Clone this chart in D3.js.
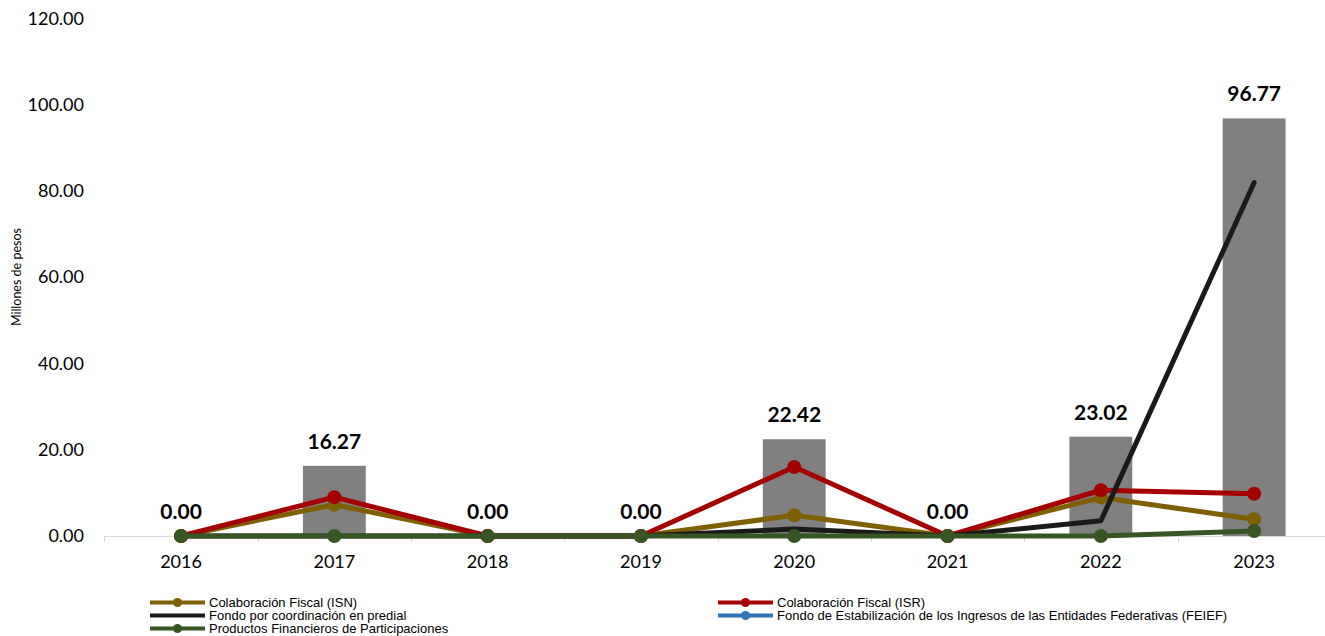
<!DOCTYPE html>
<html><head><meta charset="utf-8">
<script src="https://cdn.jsdelivr.net/npm/d3@7/dist/d3.min.js"></script>
<style>body{margin:0;background:#fff}svg{display:block}</style>
</head><body>
<svg id="c" width="1325" height="636"></svg>
<script>
const years = ["2016","2017","2018","2019","2020","2021","2022","2023"];
const totals = [0.00, 16.27, 0.00, 0.00, 22.42, 0.00, 23.02, 96.77];
const isn = [0, 7.27, 0, 0, 4.8, 0, 8.9, 3.9];
const isr = [0, 9.0, 0, 0, 16.0, 0, 10.6, 9.8];
const predial = [0, 0, 0, 0, 1.62, 0, 3.52, 81.91];
const feief = [null, null, null, null, null, null, null, null];
const productos = [0, 0, 0, 0, 0, 0, 0, 1.16];
const yTicks = [0, 20, 40, 60, 80, 100, 120];
const seriesNames = ["Colaboración Fiscal (ISN)", "Colaboración Fiscal (ISR)", "Fondo por coordinación en predial", "Fondo de Estabilización de los Ingresos de las Entidades Federativas (FEIEF)", "Productos Financieros de Participaciones"];
const seriesColors = ["#7F6000", "#A50000", "#1a1a1a", "#2E75B6", "#375623"];
const seriesMarkers = [true, true, false, true, true];
const seriesData = [isn, isr, predial, feief, productos];

const svg = d3.select("#c");
const pL = 104.4, pR = 1330.8, pT = 18.2, pB = 536;
const x = d3.scaleBand().domain(years).range([pL, pR]).paddingInner(0.59).paddingOuter(0.295);
const xc = d3.scalePoint().domain(years).range([pL, pR]).padding(0.5);
const y = d3.scaleLinear().domain([0, 120]).range([pB, pT]);

// y tick labels
svg.append("g").selectAll("text").data(yTicks).join("text")
  .attr("x", 84).attr("y", d => y(d)).attr("dy", "0.35em")
  .attr("text-anchor", "end").attr("font-family", "Lato, 'Open Sans', sans-serif")
  .attr("font-size", 18).attr("fill", "#000").text(d => d.toFixed(2));

svg.append("text").attr("transform", `translate(21,${(pT+pB)/2}) rotate(-90)`)
  .attr("text-anchor", "middle").attr("font-family", "Lato, 'Open Sans', sans-serif")
  .attr("font-size", 12.5).attr("fill", "#000").text("Millones de pesos");

// bars
svg.append("g").selectAll("rect").data(totals).join("rect")
  .attr("x", (d, i) => x(years[i])).attr("width", x.bandwidth())
  .attr("y", d => y(d)).attr("height", d => y(0) - y(d)).attr("fill", "#808080");

// x axis
const xAxis = svg.append("g");
xAxis.append("line").attr("x1", pL).attr("x2", pR).attr("y1", pB + 0.5).attr("y2", pB + 0.5)
  .attr("stroke", "#d9d9d9").attr("stroke-width", 1);
const bounds = d3.range(years.length + 1).map(i => pL + i * (pR - pL) / years.length);
xAxis.selectAll("line.t").data(bounds).join("line").attr("class", "t")
  .attr("x1", d => Math.round(d) + 0.5).attr("x2", d => Math.round(d) + 0.5)
  .attr("y1", pB).attr("y2", pB + 6).attr("stroke", "#d9d9d9");
xAxis.selectAll("text").data(years).join("text")
  .attr("x", d => xc(d)).attr("y", 568).attr("text-anchor", "middle")
  .attr("font-family", "Lato, 'Open Sans', sans-serif").attr("font-size", 18).attr("fill", "#000").text(d => d);

// lines
const line = d3.line().defined(d => d != null).x((d, i) => xc(years[i])).y(d => y(d));
seriesData.forEach((data, k) => {
  const g = svg.append("g");
  g.append("path").datum(data).attr("d", line).attr("fill", "none")
    .attr("stroke", seriesColors[k]).attr("stroke-width", 5).attr("stroke-linejoin", "round").attr("stroke-linecap", "round");
  if (seriesMarkers[k]) {
    g.selectAll("circle").data(data.map((v, i) => [v, i]).filter(p => p[0] != null)).join("circle")
      .attr("cx", p => xc(years[p[1]])).attr("cy", p => y(p[0])).attr("r", 7)
      .attr("fill", seriesColors[k]);
  }
});

// bar labels
svg.append("g").selectAll("text").data(totals).join("text")
  .attr("x", (d, i) => xc(years[i])).attr("y", d => y(d) - 17)
  .attr("text-anchor", "middle").attr("font-family", "Lato, 'Open Sans', sans-serif")
  .attr("font-weight", "bold").attr("font-size", 21).attr("fill", "#000").text(d => d.toFixed(2));

// legend
const legPos = [[150, 602.5], [718, 602.5], [150, 615.5], [718, 615.5], [150, 628.5]];
const leg = svg.append("g");
seriesNames.forEach((name, k) => {
  const [lx, ly] = legPos[k];
  leg.append("line").attr("x1", lx).attr("x2", lx + 55).attr("y1", ly).attr("y2", ly)
    .attr("stroke", seriesColors[k]).attr("stroke-width", 4);
  if (seriesMarkers[k]) leg.append("circle").attr("cx", lx + 27.5).attr("cy", ly).attr("r", 4.5).attr("fill", seriesColors[k]);
  leg.append("text").attr("x", lx + 59).attr("y", ly).attr("dy", "0.35em")
    .attr("font-family", "'Liberation Sans', Arial, sans-serif").attr("font-size", 13).attr("fill", "#000").text(name);
});
</script>
</body></html>
